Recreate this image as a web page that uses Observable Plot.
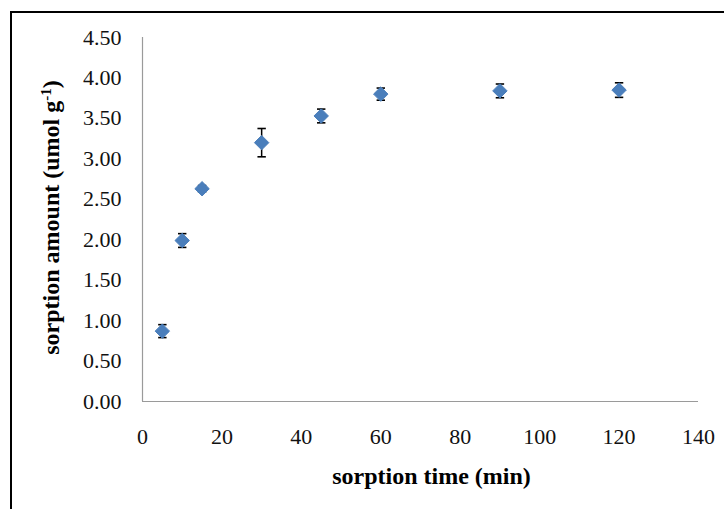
<!DOCTYPE html>
<html>
<head>
<meta charset="utf-8">
<script src="https://cdn.jsdelivr.net/npm/d3@7"></script>
<script src="https://cdn.jsdelivr.net/npm/@observablehq/plot@0.6"></script>
<style>
  html, body { margin: 0; padding: 0; background: #fff; }
  #chart { width: 724px; height: 509px; position: relative; overflow: hidden; }
</style>
</head>
<body>
<div id="chart"></div>
<script>
// Data
const times   = [5, 10, 15, 30, 45, 60, 90, 120];
const amounts = [0.87, 1.99, 2.63, 3.20, 3.53, 3.80, 3.84, 3.85];
const errors  = [0.08, 0.085, 0.04, 0.175, 0.085, 0.075, 0.085, 0.09];
const xTicks  = [0, 20, 40, 60, 80, 100, 120, 140];
const yTicks  = [0, 0.5, 1, 1.5, 2, 2.5, 3, 3.5, 4, 4.5];
const xTitle  = "sorption time (min)";
const yTitle  = "sorption amount (umol g";
const yTitleSup = "-1";

const data = times.map((t, i) => ({x: t, y: amounts[i], lo: amounts[i] - errors[i], hi: amounts[i] + errors[i]}));

const capSymbol = {
  draw(ctx, size) {
    const w = Math.sqrt(size / Math.PI);
    ctx.moveTo(-w, 0);
    ctx.lineTo(w, 0);
  }
};

const serif = "'Liberation Serif', 'Times New Roman', serif";
const blue = "#4A7EBB";

const plot = Plot.plot({
  width: 724,
  height: 509,
  marginLeft: 142,
  marginRight: 26,
  marginTop: 37,
  marginBottom: 108,
  style: {fontFamily: serif, background: "transparent", color: "#111"},
  x: {domain: [0, 140], label: null},
  y: {domain: [0, 4.5], label: null},
  marks: [
    Plot.ruleX([0], {stroke: "#9a9a9a", strokeWidth: 1.2}),
    Plot.ruleY([0], {stroke: "#9a9a9a", strokeWidth: 1.2}),
    Plot.axisX(xTicks, {tickSize: 0, tickPadding: 27, fontSize: 22, tickFormat: d => String(d), fill: "#111"}),
    Plot.axisY(yTicks, {tickSize: 0, tickPadding: 21, fontSize: 22, tickFormat: d => d.toFixed(2), fill: "#111"}),
    Plot.ruleX(data, {x: "x", y1: "lo", y2: "hi", stroke: "#000", strokeWidth: 1.5}),
    Plot.dot(data, {x: "x", y: "lo", symbol: capSymbol, r: 4.2, stroke: "#000", strokeWidth: 1.6, fill: "none"}),
    Plot.dot(data, {x: "x", y: "hi", symbol: capSymbol, r: 4.2, stroke: "#000", strokeWidth: 1.6, fill: "none"}),
    Plot.dot(data, {x: "x", y: "y", symbol: "diamond2", r: 6.5, fill: blue, stroke: blue, strokeWidth: 1}),
    Plot.text([xTitle], {frameAnchor: "bottom", dx: 11, dy: 82, fontSize: 24, fontWeight: "bold", fill: "#000", text: d => d}),
    Plot.text([yTitle], {frameAnchor: "left", textAnchor: "middle", dx: -91, dy: -2, rotate: -90, fontSize: 24, fontWeight: "bold", fill: "#000", text: d => d})
  ]
});

// superscript on the y title
const yt = d3.select(plot).selectAll("text").filter(function() { return this.textContent === yTitle; });
yt.append("tspan").attr("baseline-shift", "super").attr("font-size", 15).text(yTitleSup);
yt.append("tspan").text(")");

// outer chart border (top and left visible, continues past the window)
d3.select(plot).insert("rect", ":first-child")
  .attr("x", 11).attr("y", 12).attr("width", 900).attr("height", 700)
  .attr("fill", "none").attr("stroke", "#000").attr("stroke-width", 2);

document.getElementById("chart").appendChild(plot);
</script>
</body>
</html>
